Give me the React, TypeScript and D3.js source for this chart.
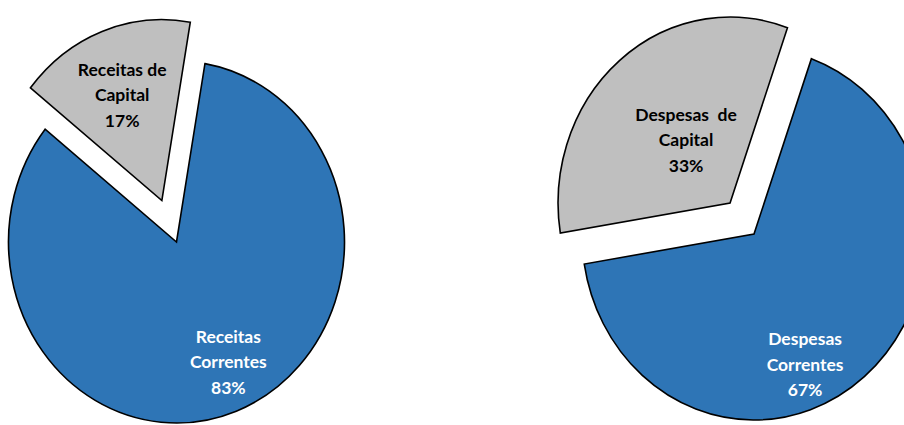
import React from "react";
import * as d3 from "d3";

// ---- data ----
const receitasCategories = ["Receitas Correntes", "Receitas de Capital"];
const receitasValues = [83, 17];
const receitasLabels = [
  ["Receitas", "Correntes", "83%"],
  ["Receitas de", "Capital", "17%"],
];

const despesasCategories = ["Despesas Correntes", "Despesas de Capital"];
const despesasValues = [67, 33];
const despesasLabels = [
  ["Despesas", "Correntes", "67%"],
  ["Despesas  de", "Capital", "33%"],
];

const sliceColors = ["#2E75B6", "#BFBFBF"];
const labelColors = ["#FFFFFF", "#000000"];

// ---- layout ----
const W = 904;
const H = 425;
const deg = Math.PI / 180;

type PieLayout = {
  cx: number;
  cy: number;
  rx: number;
  ry: number;
  start: number; // degrees clockwise from top
  explode: number[]; // fraction of radius
  labelAngle: number[]; // degrees
  labelR: number[]; // fraction of radius
};

const leftLayout: PieLayout = {
  cx: 176.5,
  cy: 242,
  rx: 168,
  ry: 181,
  start: 9.75,
  explode: [0, 0.245],
  labelAngle: [155, 338],
  labelR: [0.73, 0.63],
};

const rightLayout: PieLayout = {
  cx: 754,
  cy: 234,
  rx: 172,
  ry: 186,
  start: 19.5,
  explode: [0, 0.217],
  labelAngle: [157, 323],
  labelR: [0.76, 0.425],
};

function Pie({
  values,
  categories,
  labels,
  layout,
}: {
  values: number[];
  categories: string[];
  labels: string[][];
  layout: PieLayout;
}) {
  const pie = d3
    .pie<number>()
    .sort(null)
    .value((d) => d)
    .startAngle(layout.start * deg)
    .endAngle(layout.start * deg + 2 * Math.PI);
  const arcs = pie(values);
  const R = layout.rx;
  const sy = layout.ry / layout.rx;
  const arc = d3.arc<d3.PieArcDatum<number>>().innerRadius(0).outerRadius(R);
  const lineH = 25.5;

  return (
    <g>
      {arcs.map((a, i) => {
        const mid = (a.startAngle + a.endAngle) / 2;
        const ex = Math.sin(mid) * layout.explode[i] * layout.rx;
        const ey = -Math.cos(mid) * layout.explode[i] * layout.ry;
        return (
          <g key={categories[i]} transform={`translate(${layout.cx + ex},${layout.cy + ey})`}>
            <path
              d={arc(a) || ""}
              transform={`scale(1,${sy})`}
              fill={sliceColors[i]}
              stroke="#000"
              strokeWidth={1.6}
              strokeLinejoin="miter"
              vectorEffect="non-scaling-stroke"
            />
          </g>
        );
      })}
      {arcs.map((a, i) => {
        const mid = (a.startAngle + a.endAngle) / 2;
        const ex = Math.sin(mid) * layout.explode[i] * layout.rx;
        const ey = -Math.cos(mid) * layout.explode[i] * layout.ry;
        const la = layout.labelAngle[i] * deg;
        const lx = layout.cx + ex + Math.sin(la) * layout.labelR[i] * layout.rx;
        const ly = layout.cy + ey - Math.cos(la) * layout.labelR[i] * layout.ry;
        const lines = labels[i];
        return (
          <text
            key={"t" + i}
            x={lx}
            y={ly}
            textAnchor="middle"
            fontFamily="Lato, 'Open Sans', sans-serif"
            fontWeight={700}
            fontSize={17.5}
            fill={labelColors[i]}
            style={{ whiteSpace: "pre" }}
          >
            {lines.map((ln, j) => (
              <tspan
                key={j}
                x={lx}
                y={ly + (j - (lines.length - 1) / 2) * lineH}
                dominantBaseline="central"
              >
                {ln}
              </tspan>
            ))}
          </text>
        );
      })}
    </g>
  );
}

export default function App() {
  return (
    <svg
      width={W}
      height={H}
      viewBox={`0 0 ${W} ${H}`}
      style={{ position: "absolute", left: 0, top: 0, display: "block", background: "#fff" }}
    >
      <rect width={W} height={H} fill="#fff" />
      <Pie
        values={receitasValues}
        categories={receitasCategories}
        labels={receitasLabels}
        layout={leftLayout}
      />
      <Pie
        values={despesasValues}
        categories={despesasCategories}
        labels={despesasLabels}
        layout={rightLayout}
      />
    </svg>
  );
}
